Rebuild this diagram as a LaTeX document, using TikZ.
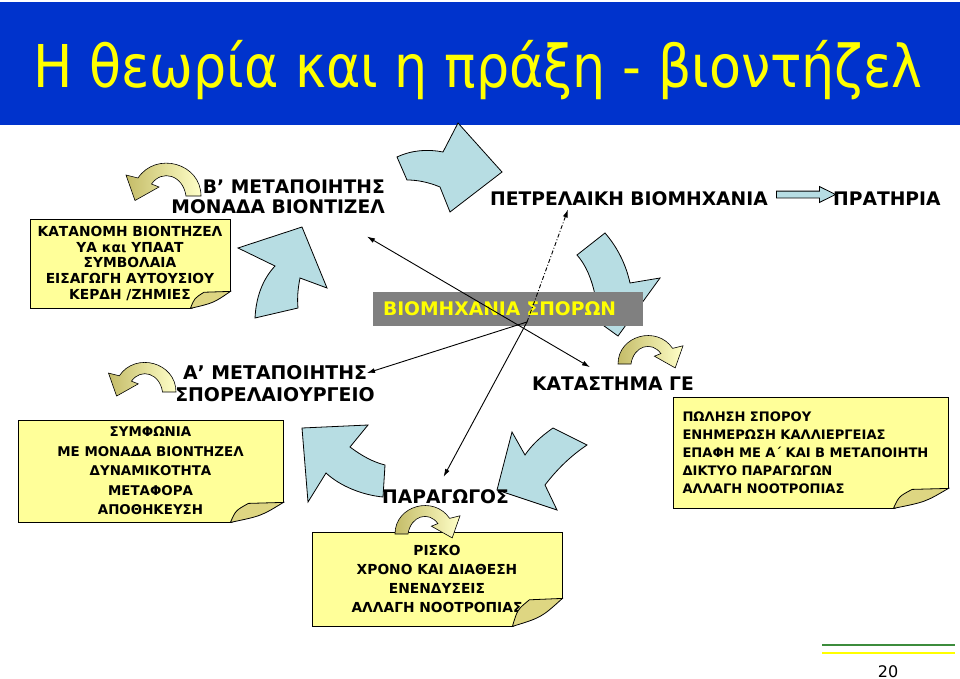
\documentclass[tikz,border=0pt]{standalone}
\usepackage{fontspec}
\setmainfont{DejaVu Sans}
\usetikzlibrary{arrows.meta,calc,shapes.arrows}

\definecolor{bandblue}{RGB}{0,51,204}
\definecolor{titleyellow}{RGB}{255,255,0}
\definecolor{notefill}{RGB}{255,255,153}
\definecolor{foldfill}{RGB}{222,214,130}
\definecolor{cycleblue}{RGB}{183,221,227}
\definecolor{curldark}{RGB}{196,188,104}
\definecolor{curllight}{RGB}{255,255,200}
\definecolor{seedgrey}{RGB}{128,128,128}
\definecolor{rulegreen}{RGB}{60,140,60}

% turned-up corner of a note: node, fold width, fold height
\newcommand{\notefold}[3]{%
  \fill[white] ($(#1.south east)+(-#2,1)$) -- ($(#1.south east)+(1,1)$) -- ($(#1.south east)+(1,-#3)$) -- cycle;
  \filldraw[flap] ($(#1.south east)+(-#2,0)$) .. controls ($(#1.south east)+(-0.9*#2,-0.6*#3)$) .. ($(#1.south east)+(-0.66*#2,-0.95*#3)$)
    -- ($(#1.south east)+(0,-#3)$) .. controls ($(#1.south east)+(-0.42*#2,-0.32*#3)$) .. cycle;
}

\begin{document}
\begin{tikzpicture}[x=1pt, y=-1pt,
  actor/.style={font=\bfseries\fontsize{18.7}{20}\selectfont, inner sep=0pt},
  notebox/.style={rectangle, draw=black, line width=0.8pt, fill=notefill, align=center, inner sep=4pt},
  notetext/.style={font=\bfseries\fontsize{13.8}{#1}\selectfont},
  flap/.style={draw=black, line width=0.8pt, fill=foldfill},
  cycle arrow/.style={draw=black, line width=0.8pt, fill=cycleblue},
  conn/.style={-{Latex[length=8pt,width=5pt]}, line width=0.9pt},
  curl/.pic={
    \shadedraw[left color=curldark, right color=curllight, draw=black, line width=0.6pt]
      (0,0) .. controls (0,-22) and (30,-30) .. (42,-12) -- (50,-14) -- (44,3) -- (28,-6)
      -- (33,-8) .. controls (26,-18) and (12,-14) .. (10,0) -- cycle;
  }
]
\useasboundingbox (0,0) rectangle (960,679);

% header band
\fill[bandblue] (0,2) rectangle (960,125);
\node[anchor=base, text=titleyellow, font=\fontsize{59}{60}\selectfont, inner sep=0pt] (title) at (478,88)
  {\scalebox{0.886}[1]{Η θεωρία και η πράξη - βιοντήζελ}};

% cycle of block arrows
\filldraw[cycle arrow] (397,157) .. controls (412,150) and (428,149) .. (443,152) -- (458,123) -- (502,172)
  -- (450,212) -- (440,187) .. controls (428,182) and (417,180) .. (407,180) -- cycle;
\filldraw[cycle arrow] (605,233) .. controls (618,248) and (626,265) .. (630,283) -- (660,278) -- (618,336)
  -- (575,305) -- (595,295) .. controls (592,280) and (586,265) .. (577,255) -- cycle;
\filldraw[cycle arrow] (553,428) .. controls (540,437) and (531,446) .. (525,455) -- (512,432) -- (497,490)
  -- (557,510) -- (545,485) .. controls (558,468) and (572,455) .. (587,445) -- cycle;
\filldraw[cycle arrow] (302,428) -- (368,425) -- (350,447) .. controls (362,456) and (373,462) .. (385,465)
  -- (383,497) .. controls (362,495) and (340,486) .. (326,473) -- (308,502) -- cycle;
\filldraw[cycle arrow] (302,227) -- (327,288) -- (300,278) .. controls (298,288) and (297,298) .. (298,308)
  -- (255,318) .. controls (256,298) and (262,280) .. (275,266) -- (238,248) -- cycle;

% seed industry box
\node[fill=seedgrey, minimum width=270, minimum height=32, text width=250, inner sep=10pt, align=left,
      text=titleyellow, font=\bfseries\fontsize{18.7}{20}\selectfont] (seeds) at (508,309) {ΒΙΟΜΗΧΑΝΙΑ ΣΠΟΡΩΝ};

% actors
\node[actor, align=right, anchor=north east] (labelB) at (385,179) {Β’ ΜΕΤΑΠΟΙΗΤΗΣ\\ΜΟΝΑΔΑ ΒΙΟΝΤΙΖΕΛ};
\node[actor, anchor=base west] (petr) at (490,205) {ΠΕΤΡΕΛΑΙΚΗ ΒΙΟΜΗΧΑΝΙΑ};
\node[actor, anchor=base west] (prat) at (833,205) {ΠΡΑΤΗΡΙΑ};
\node[actor, font=\bfseries\fontsize{18.9}{22}\selectfont, align=center, anchor=north] (labelA) at (275,365)
  {Α’ ΜΕΤΑΠΟΙΗΤΗΣ\\ΣΠΟΡΕΛΑΙΟΥΡΓΕΙΟ};
\node[actor, anchor=base west] (katast) at (532,390) {ΚΑΤΑΣΤΗΜΑ ΓΕ};
\node[actor, anchor=base west] (parag) at (382,503) {ΠΑΡΑΓΩΓΟΣ};

\node[single arrow, draw=black, line width=0.8pt, fill=cycleblue, minimum height=59, minimum width=15,
      single arrow head extend=4.5pt, single arrow tip angle=53, inner xsep=0pt, inner ysep=3pt] (pump) at (802.5,194.5) {};

% links from the seed industry
\coordinate (hub) at (527,322);
\draw[conn] (hub) -- ([shift={(-8,8)}]labelA.north east);
\draw[conn] (hub) -- ([shift={(-2,-12)}]parag.north);
\draw[conn, dash pattern=on 4pt off 2pt on 1pt off 2pt] (hub) -- ([shift={(78,4)}]petr.south west);
\draw[conn, {Latex[length=8pt,width=5pt]}-{Latex[length=8pt,width=5pt]}]
  ([shift={(-18,23)}]labelB.south east) -- ([shift={(58,-9)}]katast.north west);

% notes
\node[notebox, minimum width=200, minimum height=89, notetext=15.8] (noteB) at (130,263.5)
  {ΚΑΤΑΝΟΜΗ ΒΙΟΝΤΗΖΕΛ\\ΥΑ και ΥΠΑΑΤ\\ΣΥΜΒΟΛΑΙΑ\\ΕΙΣΑΓΩΓΗ ΑΥΤΟΥΣΙΟΥ\\ΚΕΡΔΗ /ΖΗΜΙΕΣ};
\notefold{noteB}{40}{17}
\node[notebox, minimum width=265, minimum height=102, font=\bfseries\fontsize{13.4}{19.5}\selectfont] (noteA) at (150.5,471)
  {ΣΥΜΦΩΝΙΑ\\ΜΕ ΜΟΝΑΔΑ ΒΙΟΝΤΗΖΕΛ\\ΔΥΝΑΜΙΚΟΤΗΤΑ\\ΜΕΤΑΦΟΡΑ\\ΑΠΟΘΗΚΕΥΣΗ};
\notefold{noteA}{53}{20}
\node[notebox, align=left, text width=262, minimum width=275, minimum height=111, inner xsep=6.5pt, inner ysep=6pt,
      font=\bfseries\fontsize{13.1}{18}\selectfont] (noteShop) at (810.5,452.5)
  {\hspace*{3pt}ΠΩΛΗΣΗ ΣΠΟΡΟΥ\\\hspace*{3pt}ΕΝΗΜΕΡΩΣΗ ΚΑΛΛΙΕΡΓΕΙΑΣ\\\hspace*{3pt}ΕΠΑΦΗ ΜΕ Α΄ ΚΑΙ Β ΜΕΤΑΠΟΙΗΤΗ\\\hspace*{3pt}ΔΙΚΤΥΟ ΠΑΡΑΓΩΓΩΝ\\\hspace*{3pt}ΑΛΛΑΓΗ ΝΟΟΤΡΟΠΙΑΣ};
\notefold{noteShop}{55}{20}
\node[notebox, minimum width=250, minimum height=94, notetext=19] (noteFarm) at (437,579)
  {ΡΙΣΚΟ\\ΧΡΟΝΟ ΚΑΙ ΔΙΑΘΕΣΗ\\ΕΝΕΝΔΥΣΕΙΣ\\ΑΛΛΑΓΗ ΝΟΟΤΡΟΠΙΑΣ};
\notefold{noteFarm}{50}{28}

% curled arrows
\pic[xscale=-1.5, yscale=1.5] at (201,196) {curl};
\pic[xscale=-1.35, yscale=1.35] at (176,392) {curl};
\pic[scale=1.3] at (618,364) {curl};
\pic[scale=1.3] at (395,534) {curl};

% footer
\draw[rulegreen, line width=1.5pt] (822,645) -- (955,645);
\draw[titleyellow, line width=2.5pt] (822,653) -- (955,653);
\node[anchor=base, font=\fontsize{16}{18}\selectfont, inner sep=0pt] (pagenum) at (888,677) {20};
\end{tikzpicture}
\end{document}
